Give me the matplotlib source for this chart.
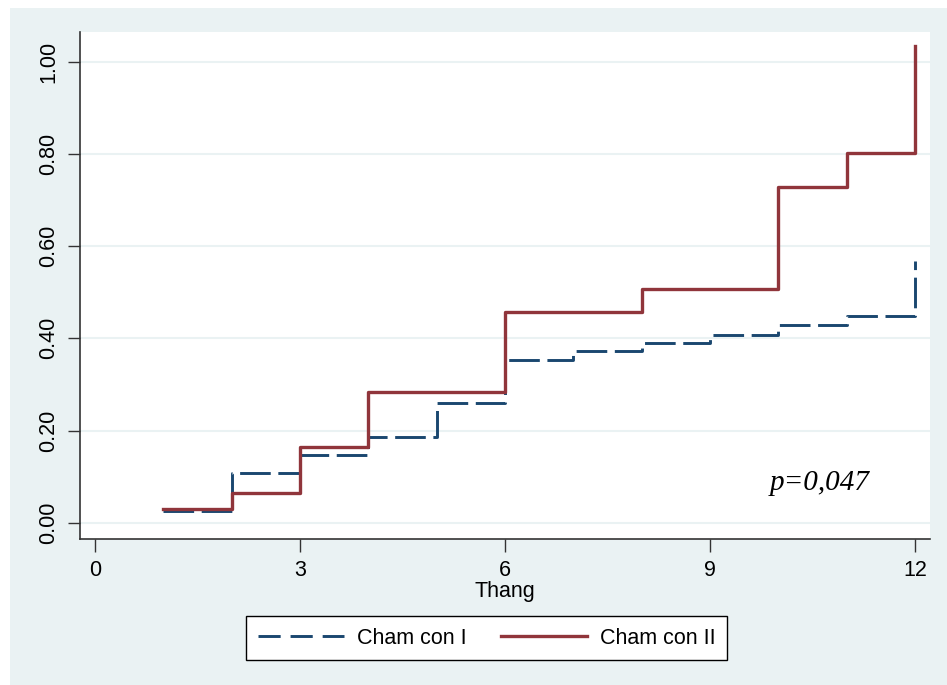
import matplotlib
matplotlib.use('Agg')
import matplotlib.pyplot as plt
from matplotlib.patches import Rectangle
from matplotlib.lines import Line2D
import numpy as np

plt.rcParams['font.family'] = 'Liberation Sans'

# cumulative incidence by month
thang_1 = [1, 2, 3, 4, 5, 6, 7, 8, 9, 10, 11, 12]
cham_con_1 = [0.025, 0.108, 0.147, 0.187, 0.259, 0.354, 0.372, 0.390, 0.408, 0.428, 0.449, 0.567]
thang_2 = [1, 2, 3, 4, 6, 8, 10, 11, 12]
cham_con_2 = [0.031, 0.064, 0.165, 0.283, 0.456, 0.507, 0.729, 0.802, 1.033]
labels = ['Cham con I', 'Cham con II']

x_ticks = [0, 3, 6, 9, 12]
y_ticks = [0.0, 0.2, 0.4, 0.6, 0.8, 1.0]
y_ticklabels = ['0.00', '0.20', '0.40', '0.60', '0.80', '1.00']

navy = '#1a476f'
maroon = '#90353b'
bg = '#eaf2f3'

W, H = 947, 685
fig = plt.figure(figsize=(W / 100, H / 100), dpi=100)
fig.patches.append(Rectangle((10 / W, 0), 1, (H - 8) / H, transform=fig.transFigure,
                             facecolor=bg, edgecolor='none', zorder=-1))

ax = fig.add_axes([80 / W, (H - 539) / H, 850 / W, 507 / H])
ax.set_facecolor('white')

ax.plot(thang_1, cham_con_1, drawstyle='steps-post', color=navy, lw=2.1,
        dashes=(10.5, 2.6))
ax.plot(thang_2, cham_con_2, drawstyle='steps-post', color=maroon, lw=2.4)

ax.set_xlim(-0.22, 12.22)
ax.set_ylim(-0.035, 1.064)
ax.set_xticks(x_ticks)
ax.set_yticks(y_ticks)
ax.set_yticklabels(y_ticklabels, rotation=90, va='center')
ax.tick_params(axis='both', labelsize=15.5, length=9, width=1, color='#333333')
ax.tick_params(axis='x', pad=6)
ax.tick_params(axis='y', pad=6)

ax.grid(axis='y', color=bg, lw=1.5)
ax.set_axisbelow(True)
for s in ['top', 'right']:
    ax.spines[s].set_visible(False)
for s in ['left', 'bottom']:
    ax.spines[s].set_color('#333333')
    ax.spines[s].set_linewidth(1.2)

ax.set_xlabel('Thang', fontsize=15.5, labelpad=0)

ax.text(9.88, 0.086, 'p=0,047', fontsize=21, style='italic',
        family='Liberation Serif', va='center', ha='left')

# legend keys use a shorter dash than the curve
handles = [Line2D([], [], color=navy, lw=2.1, dashes=(7.6, 3.4)),
           Line2D([], [], color=maroon, lw=2.4)]
leg = fig.legend(handles, labels, loc='center', bbox_to_anchor=(486.5 / W, 47 / H), ncol=2,
                 fontsize=15.5, handlelength=4.0, handletextpad=0.6,
                 columnspacing=1.6, borderpad=0.55, fancybox=False,
                 framealpha=1, edgecolor='black', borderaxespad=0)
leg.get_frame().set_linewidth(1.0)

fig.savefig('out.png', dpi=100)
